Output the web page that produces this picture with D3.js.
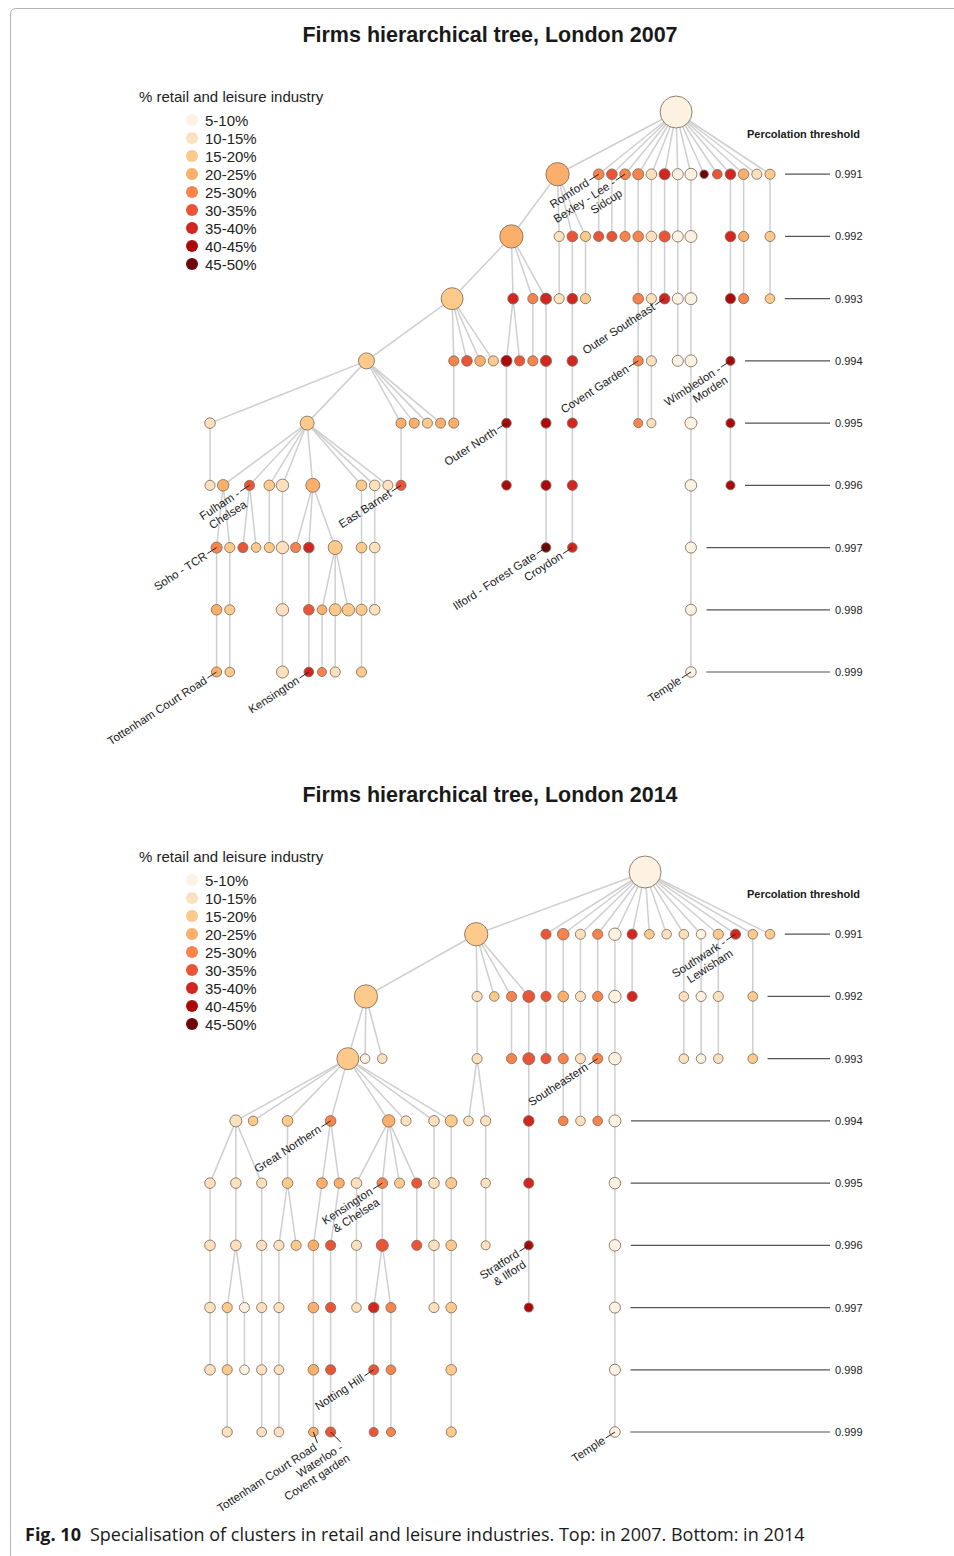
<!DOCTYPE html>
<html>
<head>
<meta charset="utf-8">
<script src="https://cdn.jsdelivr.net/npm/d3@7"></script>
<style>
  html, body { margin: 0; padding: 0; background: #fff; }
  svg { display: block; font-family: "Liberation Sans", Arial, Helvetica, sans-serif; }
</style>
</head>
<body>
<svg id="fig" width="954" height="1556"></svg>
<script>
// Share of retail & leisure firms, binned in 5-point classes
const pctClasses = ["5-10%", "10-15%", "15-20%", "20-25%", "25-30%", "30-35%", "35-40%", "40-45%", "45-50%"];
const pctColors  = ["#fdf1e2", "#fde0bd", "#fdca8c", "#fcae6b", "#f8844c", "#ea5538", "#d42620", "#ac0a0a", "#6e0707"];

// Percolation thresholds shown on the right-hand scale
const thresholdTicks = [0.991, 0.992, 0.993, 0.994, 0.995, 0.996, 0.997, 0.998, 0.999];

// Cluster tree nodes: [threshold, slot, parent slot (at previous threshold), class index, relative cluster size]
const nodes2007 = [
  [0.990, 70.75, null, 0, 100],
  [0.991, 52.75, 70.75, 3, 53], [0.991, 59, 70.75, 4, 11], [0.991, 61, 70.75, 5, 11], [0.991, 63, 70.75, 4, 11],
  [0.991, 65, 70.75, 4, 12], [0.991, 67, 70.75, 1, 11], [0.991, 69, 70.75, 6, 12], [0.991, 71, 70.75, 0, 12],
  [0.991, 73, 70.75, 0, 14], [0.991, 75, 70.75, 8, 7], [0.991, 77, 70.75, 5, 9], [0.991, 79, 70.75, 6, 11],
  [0.991, 81, 70.75, 3, 11], [0.991, 83, 70.75, 1, 10], [0.991, 85, 70.75, 2, 10],
  [0.992, 45.75, 52.75, 3, 53], [0.992, 53, 52.75, 1, 10], [0.992, 55, 52.75, 5, 11], [0.992, 57, 52.75, 2, 10],
  [0.992, 59, 59, 5, 10], [0.992, 61, 61, 5, 10], [0.992, 63, 63, 4, 10], [0.992, 65, 65, 4, 11],
  [0.992, 67, 67, 1, 11], [0.992, 69, 69, 5, 12], [0.992, 71, 71, 0, 12], [0.992, 73, 73, 0, 14],
  [0.992, 79, 79, 6, 11], [0.992, 81, 81, 3, 10], [0.992, 85, 85, 2, 10],
  [0.993, 36.75, 45.75, 2, 47], [0.993, 46, 45.75, 6, 11], [0.993, 49, 45.75, 4, 10], [0.993, 51, 45.75, 6, 12],
  [0.993, 53, 53, 1, 10], [0.993, 55, 55, 6, 11], [0.993, 57, 57, 2, 10], [0.993, 65, 65, 4, 11],
  [0.993, 67, 67, 1, 10], [0.993, 69, 69, 6, 11], [0.993, 71, 71, 0, 12], [0.993, 73, 73, 0, 14],
  [0.993, 79, 79, 7, 10], [0.993, 81, 81, 4, 10], [0.993, 85, 85, 2, 9],
  [0.994, 23.75, 36.75, 2, 25], [0.994, 37, 36.75, 4, 10], [0.994, 39, 36.75, 5, 11], [0.994, 41, 36.75, 3, 11],
  [0.994, 43, 36.75, 2, 10], [0.994, 45, 46, 7, 12], [0.994, 47, 46, 5, 10], [0.994, 49, 49, 4, 10],
  [0.994, 51, 51, 6, 12], [0.994, 55, 55, 6, 11], [0.994, 65, 65, 4, 10], [0.994, 67, 67, 1, 10],
  [0.994, 71, 71, 0, 12], [0.994, 73, 73, 0, 14], [0.994, 79, 79, 7, 8],
  [0.995, 0, 23.75, 1, 11], [0.995, 14.75, 23.75, 2, 19], [0.995, 29, 23.75, 3, 10], [0.995, 31, 23.75, 3, 10],
  [0.995, 33, 23.75, 2, 10], [0.995, 35, 23.75, 3, 10], [0.995, 37, 37, 3, 10], [0.995, 45, 45, 7, 9],
  [0.995, 51, 51, 7, 10], [0.995, 55, 55, 6, 10], [0.995, 65, 65, 4, 8], [0.995, 67, 67, 1, 8],
  [0.995, 73, 73, 0, 14], [0.995, 79, 79, 7, 8],
  [0.996, 0, 0, 1, 10], [0.996, 2, 14.75, 3, 13], [0.996, 6, 14.75, 5, 10], [0.996, 9, 14.75, 2, 11],
  [0.996, 11, 14.75, 1, 15], [0.996, 15.6, 14.75, 3, 19], [0.996, 23, 14.75, 2, 11], [0.996, 25, 14.75, 1, 11],
  [0.996, 27, 14.75, 1, 10], [0.996, 29, 29, 5, 10], [0.996, 45, 45, 7, 9], [0.996, 51, 51, 7, 10],
  [0.996, 55, 55, 6, 10], [0.996, 73, 73, 0, 13], [0.996, 79, 79, 7, 8],
  [0.997, 1, 2, 4, 12], [0.997, 3, 2, 2, 10], [0.997, 5, 6, 5, 10], [0.997, 7, 6, 2, 9],
  [0.997, 9, 9, 2, 10], [0.997, 11, 11, 1, 15], [0.997, 13, 15.6, 4, 10], [0.997, 15, 15.6, 6, 11],
  [0.997, 19, 15.6, 2, 19], [0.997, 23, 23, 2, 11], [0.997, 25, 25, 1, 11], [0.997, 51, 51, 8, 9],
  [0.997, 55, 55, 6, 9], [0.997, 73, 73, 0, 12],
  [0.998, 1, 1, 3, 11], [0.998, 3, 3, 2, 10], [0.998, 11, 11, 1, 15], [0.998, 15, 15, 5, 11],
  [0.998, 17, 19, 3, 9], [0.998, 19, 19, 2, 14], [0.998, 21, 19, 2, 15], [0.998, 23, 23, 2, 12],
  [0.998, 25, 25, 1, 11], [0.998, 73, 73, 0, 12],
  [0.999, 1, 1, 3, 10], [0.999, 3, 3, 2, 9], [0.999, 11, 11, 1, 14], [0.999, 15, 15, 6, 9],
  [0.999, 17, 17, 4, 8], [0.999, 19, 19, 1, 10], [0.999, 23, 23, 2, 10], [0.999, 73, 73, 0, 11]
];

const nodes2014 = [
  [0.990, 50.5, null, 0, 100],
  [0.991, 30.9, 50.5, 2, 53], [0.991, 39, 50.5, 5, 10], [0.991, 41, 50.5, 4, 13], [0.991, 43, 50.5, 1, 10],
  [0.991, 45, 50.5, 4, 10], [0.991, 47, 50.5, 0, 15], [0.991, 49, 50.5, 6, 10], [0.991, 51, 50.5, 2, 9],
  [0.991, 53, 50.5, 1, 9], [0.991, 55, 50.5, 1, 9], [0.991, 57, 50.5, 0, 9], [0.991, 59, 50.5, 2, 10],
  [0.991, 61, 50.5, 6, 10], [0.991, 63, 50.5, 2, 9], [0.991, 65, 50.5, 2, 9],
  [0.992, 18.1, 30.9, 2, 53], [0.992, 31, 30.9, 1, 10], [0.992, 33, 30.9, 2, 9], [0.992, 35, 30.9, 4, 10],
  [0.992, 37, 30.9, 5, 14], [0.992, 39, 39, 5, 10], [0.992, 41, 41, 3, 11], [0.992, 43, 43, 1, 10],
  [0.992, 45, 45, 4, 10], [0.992, 47, 47, 0, 15], [0.992, 49, 49, 6, 10], [0.992, 55, 55, 1, 9],
  [0.992, 57, 57, 0, 10], [0.992, 59, 59, 1, 10], [0.992, 63, 63, 2, 9],
  [0.993, 16, 18.1, 2, 47], [0.993, 18, 18.1, 0, 9], [0.993, 20, 18.1, 1, 9], [0.993, 31, 31, 1, 10],
  [0.993, 35, 35, 4, 10], [0.993, 37, 37, 5, 14], [0.993, 39, 39, 5, 10], [0.993, 41, 41, 4, 10],
  [0.993, 43, 43, 1, 10], [0.993, 45, 45, 4, 10], [0.993, 47, 47, 0, 15], [0.993, 55, 55, 1, 9],
  [0.993, 57, 57, 0, 9], [0.993, 59, 59, 1, 9], [0.993, 63, 63, 2, 9],
  [0.994, 3, 16, 1, 14], [0.994, 5, 16, 2, 9], [0.994, 9, 16, 2, 11], [0.994, 14, 16, 4, 11],
  [0.994, 20.75, 16, 3, 15], [0.994, 22.75, 16, 1, 10], [0.994, 26, 16, 1, 11], [0.994, 28, 16, 2, 14],
  [0.994, 30, 31, 1, 9], [0.994, 32, 31, 1, 10], [0.994, 37, 37, 6, 11], [0.994, 41, 41, 4, 9],
  [0.994, 43, 43, 1, 9], [0.994, 45, 45, 4, 9], [0.994, 47, 47, 0, 14],
  [0.995, 0, 3, 1, 11], [0.995, 3, 3, 1, 11], [0.995, 6, 3, 1, 10], [0.995, 9, 9, 2, 11],
  [0.995, 13, 14, 3, 11], [0.995, 15, 14, 3, 10], [0.995, 17, 20.75, 1, 11], [0.995, 20, 20.75, 4, 11],
  [0.995, 22, 20.75, 2, 10], [0.995, 24, 20.75, 5, 10], [0.995, 26, 26, 1, 11], [0.995, 28, 28, 2, 12],
  [0.995, 32, 32, 1, 9], [0.995, 37, 37, 6, 10], [0.995, 47, 47, 0, 13],
  [0.996, 0, 0, 1, 11], [0.996, 3, 3, 1, 11], [0.996, 6, 6, 1, 10], [0.996, 8, 9, 1, 10],
  [0.996, 10, 9, 2, 10], [0.996, 12, 13, 3, 11], [0.996, 14, 15, 5, 10], [0.996, 17, 17, 1, 10],
  [0.996, 20, 20, 5, 14], [0.996, 24, 24, 5, 10], [0.996, 26, 26, 1, 11], [0.996, 28, 28, 2, 11],
  [0.996, 32, 32, 1, 8], [0.996, 37, 37, 7, 8], [0.996, 47, 47, 0, 13],
  [0.997, 0, 0, 1, 11], [0.997, 2, 3, 2, 10], [0.997, 4, 3, 0, 10], [0.997, 6, 6, 1, 10],
  [0.997, 8, 8, 1, 10], [0.997, 12, 12, 3, 11], [0.997, 14, 14, 5, 10], [0.997, 17, 17, 1, 9],
  [0.997, 19, 20, 6, 11], [0.997, 21, 20, 4, 10], [0.997, 26, 26, 1, 10], [0.997, 28, 28, 2, 11],
  [0.997, 37, 37, 7, 8], [0.997, 47, 47, 0, 12],
  [0.998, 0, 0, 1, 11], [0.998, 2, 2, 2, 10], [0.998, 4, 4, 0, 9], [0.998, 6, 6, 1, 10],
  [0.998, 8, 8, 1, 9], [0.998, 12, 12, 3, 11], [0.998, 14, 14, 5, 10], [0.998, 19, 19, 5, 10],
  [0.998, 21, 21, 4, 9], [0.998, 28, 28, 2, 11], [0.998, 47, 47, 0, 12],
  [0.999, 2, 2, 1, 10], [0.999, 6, 6, 1, 9], [0.999, 8, 8, 1, 9], [0.999, 12, 12, 3, 9],
  [0.999, 14, 14, 5, 10], [0.999, 19, 19, 5, 8], [0.999, 21, 21, 4, 8], [0.999, 28, 28, 2, 10],
  [0.999, 47, 47, 0, 11]
];

// Named clusters: [threshold, slot, name lines]
const labels2007 = [
  [0.991, 59, ["Romford"]],
  [0.991, 63, ["Bexley - Lee -", "Sidcup"]],
  [0.993, 69, ["Outer Southeast"]],
  [0.994, 65, ["Covent Garden"]],
  [0.994, 79, ["Wimbledon -", "Morden"]],
  [0.995, 45, ["Outer North"]],
  [0.996, 6, ["Fulham -", "Chelsea"]],
  [0.996, 29, ["East Barnet"]],
  [0.997, 1, ["Soho - TCR"]],
  [0.997, 51, ["Ilford - Forest Gate"]],
  [0.997, 55, ["Croydon"]],
  [0.999, 1, ["Tottenham Court Road"]],
  [0.999, 15, ["Kensington"]],
  [0.999, 73, ["Temple"]]
];
const labels2014 = [
  [0.991, 61, ["Southwark -", "Lewisham"]],
  [0.993, 45, ["Southeastern"]],
  [0.994, 14, ["Great Northern"]],
  [0.995, 20, ["Kensington", "& Chelsea"]],
  [0.996, 37, ["Stratford", "& Ilford"]],
  [0.998, 19, ["Notting Hill"]],
  [0.999, 12, ["Tottenham Court Road"]],
  [0.999, 14, ["Waterloo -", "Covent garden"]],
  [0.999, 47, ["Temple"]]
];

// ---------------------------------------------------------------------------
const svg = d3.select("#fig");
const color = d3.scaleOrdinal().domain(d3.range(pctClasses.length)).range(pctColors);
const radius = d3.scaleSqrt().domain([0, 100]).range([0, 16]);
const key = (t, s) => t.toFixed(3) + "|" + s;
const textAngle = -33;

// Light figure frame
svg.append("path")
  .attr("d", "M10.5,1556 L10.5,14 Q10.5,8.5 16,8.5 L954,8.5")
  .attr("fill", "none").attr("stroke", "#b5b5b5").attr("stroke-width", 1);

const panels = [
  { year: 2007, nodes: nodes2007, labels: labels2007, dy: 0 },
  { year: 2014, nodes: nodes2014, labels: labels2014, dy: 760 }
];

panels.forEach(p => {
  const g = svg.append("g").attr("transform", `translate(0,${p.dy})`);
  const maxSlot = d3.max(p.nodes, d => d[1]);
  const x = d3.scaleLinear().domain([0, maxSlot]).range([210, 770]);
  const y = d3.scaleLinear().domain([0.990, 0.999]).range([112, 672]);

  const nodes = p.nodes.map(d => ({
    t: d[0], slot: d[1], parent: d[2], cls: d[3], size: d[4],
    x: x(d[1]), y: y(d[0]), r: radius(d[4])
  }));
  const byKey = new Map(nodes.map(n => [key(n.t, n.slot), n]));
  const links = nodes.filter(n => n.parent !== null)
    .map(n => ({ source: byKey.get(key(n.t - 0.001, n.parent)), target: n }))
    .filter(l => l.source);

  // Title
  g.append("text")
    .attr("x", 490).attr("y", 42)
    .attr("text-anchor", "middle")
    .attr("font-size", 21.5).attr("font-weight", "bold").attr("fill", "#1a1a1a")
    .text(`Firms hierarchical tree, London ${p.year}`);

  // Legend
  const lg = g.append("g");
  lg.append("text").attr("x", 139).attr("y", 102)
    .attr("font-size", 15).attr("fill", "#222")
    .text("% retail and leisure industry");
  const items = lg.selectAll("g.item").data(pctClasses).join("g")
    .attr("class", "item")
    .attr("transform", (d, i) => `translate(0,${120 + i * 18})`);
  items.append("circle").attr("cx", 192).attr("cy", 0).attr("r", 6)
    .attr("fill", (d, i) => color(i));
  items.append("text").attr("x", 205).attr("y", 5.5)
    .attr("font-size", 15).attr("fill", "#222").text(d => d);

  // Percolation threshold scale
  const rg = g.append("g");
  rg.append("text").attr("x", 860).attr("y", 138)
    .attr("text-anchor", "end").attr("font-size", 11).attr("font-weight", "bold").attr("fill", "#1a1a1a")
    .text("Percolation threshold");
  const rows = d3.rollup(nodes, v => d3.max(v, n => n.x + n.r), n => n.t.toFixed(3));
  thresholdTicks.forEach(t => {
    const start = (rows.get(t.toFixed(3)) || 600) + 10;
    rg.append("line")
      .attr("x1", start).attr("x2", 830)
      .attr("y1", y(t)).attr("y2", y(t))
      .attr("stroke", "#555").attr("stroke-width", 1.2);
    rg.append("text").attr("x", 835).attr("y", y(t) + 4)
      .attr("font-size", 11).attr("fill", "#222")
      .text(t.toFixed(3));
  });

  // Links
  g.append("g").selectAll("line").data(links).join("line")
    .attr("x1", d => d.source.x).attr("y1", d => d.source.y)
    .attr("x2", d => d.target.x).attr("y2", d => d.target.y)
    .attr("stroke", "#cfcfcf").attr("stroke-width", 1.5);

  // Nodes
  g.append("g").selectAll("circle").data(nodes).join("circle")
    .attr("cx", d => d.x).attr("cy", d => d.y).attr("r", d => d.r)
    .attr("fill", d => color(d.cls))
    .attr("stroke", "#7d6d5d").attr("stroke-opacity", 0.85).attr("stroke-width", 1);

  // Cluster names with short leaders
  const rightward = new Set(["Waterloo -", "Tottenham Court Road"]);
  const lab = g.append("g");
  p.labels.forEach(([t, slot, lines]) => {
    const n = byKey.get(key(t, slot));
    if (!n) return;
    let lx, ly, tx, ty;
    if (p.year === 2014 && rightward.has(lines[0])) {
      if (lines[0] === "Waterloo -") { lx = 10; ly = 10; tx = 11; ty = 14; }
      else { lx = 4; ly = 11; tx = 2; ty = 14; }
    } else {
      const a = textAngle * Math.PI / 180;
      lx = -Math.cos(a) * 11; ly = -Math.sin(a) * 11;
      tx = -Math.cos(a) * 13; ty = -Math.sin(a) * 13;
    }
    lab.append("line")
      .attr("x1", n.x).attr("y1", n.y)
      .attr("x2", n.x + lx).attr("y2", n.y + ly)
      .attr("stroke", "#222").attr("stroke-width", 1);
    const txt = lab.append("text")
      .attr("transform", `translate(${n.x + tx},${n.y + ty}) rotate(${textAngle})`)
      .attr("text-anchor", "end").attr("font-size", 11.5).attr("fill", "#1a1a1a");
    lines.forEach((s, i) => {
      txt.append("tspan").attr("x", 0).attr("dy", i === 0 ? "0.35em" : "1.1em").text(s);
    });
  });
});

// Caption
const cap = svg.append("text").attr("x", 25).attr("y", 1541)
  .attr("font-family", "'Open Sans', 'Noto Sans', sans-serif").attr("font-size", 18).attr("fill", "#1a1a1a");
cap.append("tspan").attr("font-weight", "bold").text("Fig. 10");
cap.append("tspan").attr("dx", 9)
  .text("Specialisation of clusters in retail and leisure industries. Top: in 2007. Bottom: in 2014");
</script>
</body>
</html>
